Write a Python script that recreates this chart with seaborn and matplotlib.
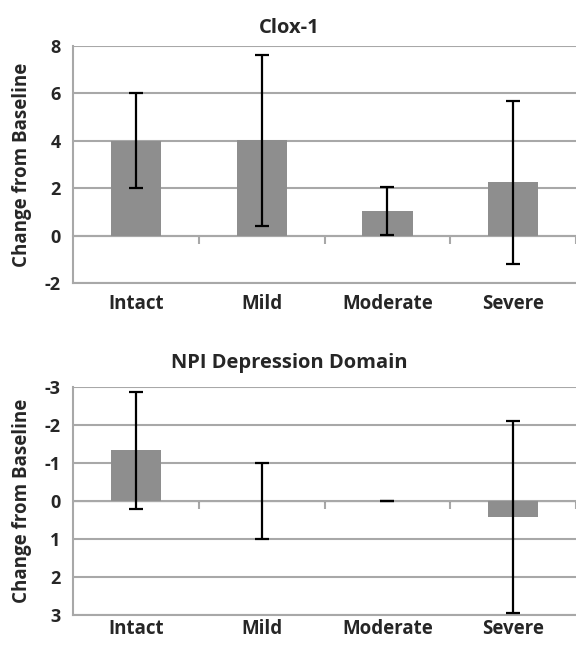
import numpy as np
import pandas as pd
import matplotlib
matplotlib.use("Agg")
import matplotlib.pyplot as plt
import seaborn as sns

# groups by impairment level
groups = ["Intact", "Mild", "Moderate", "Severe"]

# Clox-1 change from baseline (mean, error)
clox_mean = [4.0, 4.02, 1.03, 2.24]
clox_err = [2.0, 3.6, 1.0, 3.45]

# NPI depression domain change from baseline (mean, error)
npi_mean = [-1.33, 0.0, 0.0, 0.42]
npi_err = [1.53, 1.0, 0.0, 2.53]

sns.set_style("white")
plt.rcParams["font.family"] = ["Open Sans", "DejaVu Sans"]
plt.rcParams["font.weight"] = "bold"
plt.rcParams["axes.unicode_minus"] = False

bar_color = "#8e8e8e"
grid_color = "#a8a8a8"

fig = plt.figure(figsize=(5.76, 6.46), dpi=100)
ax1 = fig.add_axes([0.127, 0.562, 0.873, 0.367])
ax2 = fig.add_axes([0.127, 0.048, 0.873, 0.353])


def panel(ax, means, errs, title, ylim, zero_frac, tick_dir, title_pad, xpad):
    df = pd.DataFrame({"group": groups, "value": means})
    sns.barplot(data=df, x="group", y="value", color=bar_color, saturation=1,
                width=0.4, errorbar=None, linewidth=0, ax=ax, zorder=2)
    ax.errorbar(np.arange(len(groups)), means, yerr=errs, fmt="none",
                ecolor="black", elinewidth=1.6, capsize=5, capthick=1.6, zorder=3)
    ax.set_ylim(*ylim)
    ax.set_xlim(-0.5, 3.5)
    ax.yaxis.grid(True, color=grid_color, lw=1.5)
    ax.set_axisbelow(True)
    for s in ["top", "right"]:
        ax.spines[s].set_visible(False)
    ax.spines["left"].set_color(grid_color)
    ax.spines["left"].set_linewidth(1.5)
    ax.spines["bottom"].set_color(grid_color)
    ax.spines["bottom"].set_linewidth(1.5)
    ax.tick_params(axis="y", length=5, color=grid_color, width=1.2,
                   labelsize=13, pad=4)
    ax.tick_params(axis="x", length=0, labelsize=13.5, pad=xpad)
    for lbl in ax.get_xticklabels() + ax.get_yticklabels():
        lbl.set_fontweight("bold")
    ax.set_xlabel("")
    ax.set_ylabel("Change from Baseline", fontsize=13.5, fontweight="bold", labelpad=9)
    # title centred on the whole figure, as in the original
    ax.set_title(title, fontsize=14.5, fontweight="bold", pad=title_pad, x=0.43)
    # category axis at zero with boundary ticks
    sec = ax.secondary_xaxis(zero_frac)
    sec.set_xticks([0.5, 1.5, 2.5, 3.5])
    sec.set_xticklabels([])
    sec.tick_params(axis="x", direction=tick_dir, length=6, color=grid_color, width=1.5)
    sec.spines["bottom"].set_color(grid_color)
    sec.spines["bottom"].set_linewidth(1.5)


panel(ax1, clox_mean, clox_err, "Clox-1", (-2, 8), 0.2, "out", 9, 8)
ax1.set_yticks(range(-2, 9, 2))

panel(ax2, npi_mean, npi_err, "NPI Depression Domain", (3, -3), 0.5, "in", 14, 3)
ax2.set_yticks(range(-3, 4))

fig.savefig("out.png", dpi=100)
